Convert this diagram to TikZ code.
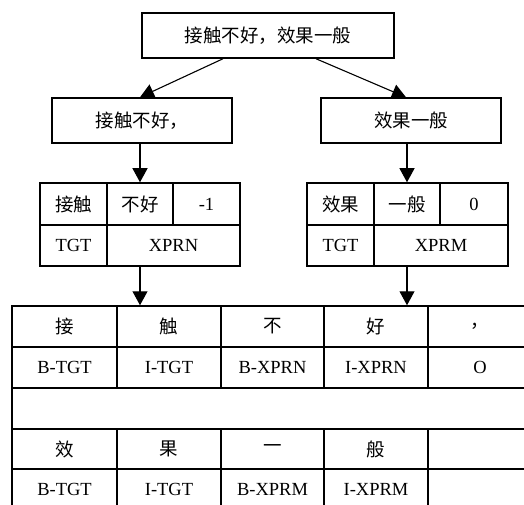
\documentclass[tikz,border=0pt]{standalone}
\usepackage{fontspec}
\setmainfont{Liberation Serif}
\newfontfamily\cjk{Noto Sans CJK SC}
\usetikzlibrary{arrows.meta}
\tikzset{
  box/.style={draw, line width=1.5pt, inner sep=0pt, minimum height=45pt, font=\fontsize{18.5}{20}\selectfont},
  cell/.style={draw, line width=1.5pt, inner sep=0pt, font=\fontsize{18.5}{20}\selectfont},
  conn/.style={line width=1.1pt, -{Triangle[width=15pt,length=14pt]}},
}
\begin{document}
\begin{tikzpicture}[x=1pt,y=-1pt]
\useasboundingbox (0,0) rectangle (524,505);
\clip (0,0) rectangle (524,505);
% top level
\node[box, minimum width=252pt] (top) at (268,35.5) {\cjk 接触不好，效果一般};
\node[box, minimum width=180pt] (l1) at (142,120.5) {\cjk 接触不好，};
\node[box, minimum width=180pt] (r1) at (411,120.5) {\cjk 效果一般};
% left small table
\node[cell, minimum width=67pt, minimum height=42pt] (a1) at (73.5,204) {\cjk 接触};
\node[cell, minimum width=66pt, minimum height=42pt] (a2) at (140,204) {\cjk 不好};
\node[cell, minimum width=67pt, minimum height=42pt] (a3) at (206.5,204) {-1};
\node[cell, minimum width=67pt, minimum height=41pt] (b1) at (73.5,245.5) {TGT};
\node[cell, minimum width=133pt, minimum height=41pt] (b2) at (173.5,245.5) {XPRN};
% right small table
\node[cell, minimum width=67pt, minimum height=42pt] (c1) at (340.5,204) {\cjk 效果};
\node[cell, minimum width=66pt, minimum height=42pt] (c2) at (407,204) {\cjk 一般};
\node[cell, minimum width=68pt, minimum height=42pt] (c3) at (474,204) {0};
\node[cell, minimum width=67pt, minimum height=41pt] (d1) at (340.5,245.5) {TGT};
\node[cell, minimum width=134pt, minimum height=41pt] (d2) at (441,245.5) {XPRM};
% big table row 1
\node[cell, minimum width=105pt, minimum height=41pt] (e1) at (64.5,326.5) {\cjk 接};
\node[cell, minimum width=104pt, minimum height=41pt] (e2) at (169,326.5) {\cjk 触};
\node[cell, minimum width=103pt, minimum height=41pt] (e3) at (272.5,326.5) {\cjk 不};
\node[cell, minimum width=104pt, minimum height=41pt] (e4) at (376,326.5) {\cjk 好};
\node[cell, minimum width=104pt, minimum height=41pt] (e5) at (480,326.5) {\cjk ，};
% row 2
\node[cell, minimum width=105pt, minimum height=41pt] (f1) at (64.5,367.5) {B-TGT};
\node[cell, minimum width=104pt, minimum height=41pt] (f2) at (169,367.5) {I-TGT};
\node[cell, minimum width=103pt, minimum height=41pt] (f3) at (272.5,367.5) {B-XPRN};
\node[cell, minimum width=104pt, minimum height=41pt] (f4) at (376,367.5) {I-XPRN};
\node[cell, minimum width=104pt, minimum height=41pt] (f5) at (480,367.5) {O};
% row 3 merged
\node[cell, minimum width=520pt, minimum height=41pt] (g) at (272,408.5) {};
% row 4
\node[cell, minimum width=105pt, minimum height=40pt] (h1) at (64.5,449) {\cjk 效};
\node[cell, minimum width=104pt, minimum height=40pt] (h2) at (169,449) {\cjk 果};
\node[cell, minimum width=103pt, minimum height=40pt] (h3) at (272.5,449) {\cjk 一};
\node[cell, minimum width=104pt, minimum height=40pt] (h4) at (376,449) {\cjk 般};
\node[cell, minimum width=104pt, minimum height=40pt] (h5) at (480,449) {};
% row 5
\node[cell, minimum width=105pt, minimum height=41pt] (i1) at (64.5,489.5) {B-TGT};
\node[cell, minimum width=104pt, minimum height=41pt] (i2) at (169,489.5) {I-TGT};
\node[cell, minimum width=103pt, minimum height=41pt] (i3) at (272.5,489.5) {B-XPRM};
\node[cell, minimum width=104pt, minimum height=41pt] (i4) at (376,489.5) {I-XPRM};
\node[cell, minimum width=104pt, minimum height=41pt] (i5) at (480,489.5) {};
% connectors
\draw[conn] ([xshift=-45pt]top.south) -- ([xshift=-2pt]l1.north);
\draw[conn] ([xshift=48pt]top.south) -- ([xshift=-5pt]r1.north);
\draw[conn] (l1.south -| a2.north) -- (a2.north);
\draw[conn] (r1.south -| c2.north) -- (c2.north);
\draw[conn] (b2.south -| a2.south) -- (e2.north -| a2.south);
\draw[conn] (d2.south -| c2.south) -- (e4.north -| c2.south);
\end{tikzpicture}
\end{document}
